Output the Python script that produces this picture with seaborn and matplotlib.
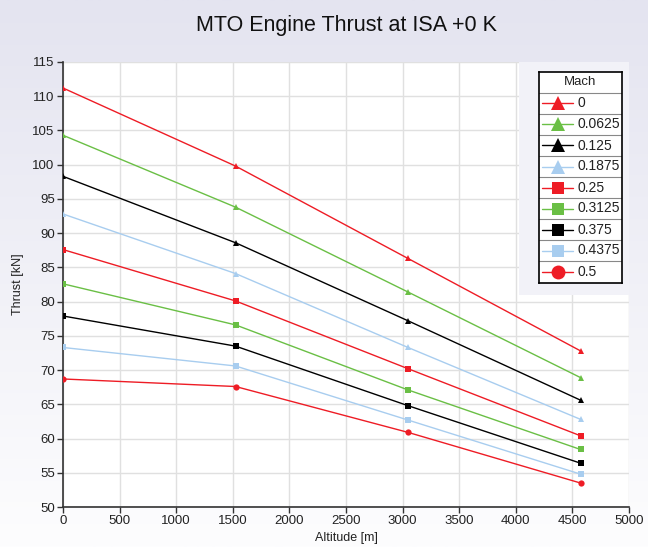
import numpy as np
import pandas as pd
import matplotlib
matplotlib.use('Agg')
import matplotlib.pyplot as plt
import seaborn as sns
from matplotlib.patches import Rectangle

# data
altitude = [0, 1524, 3048, 4572]
mach = ['0', '0.0625', '0.125', '0.1875', '0.25', '0.3125', '0.375', '0.4375', '0.5']
thrust = [
    [111.2, 99.8, 86.3, 72.8],
    [104.3, 93.8, 81.4, 68.9],
    [98.3, 88.6, 77.2, 65.6],
    [92.8, 84.1, 73.3, 62.8],
    [87.6, 80.1, 70.2, 60.4],
    [82.6, 76.6, 67.1, 58.4],
    [77.9, 73.5, 64.8, 56.4],
    [73.3, 70.6, 62.7, 54.8],
    [68.7, 67.6, 60.9, 53.5],
]
colors = ['#ee1c25', '#6abf45', '#000000', '#a8cdef'] * 2 + ['#ee1c25']
shapes = ['^'] * 4 + ['s'] * 4 + ['o']

rows = []
for m, vals in zip(mach, thrust):
    for a, t in zip(altitude, vals):
        rows.append({'Altitude': a, 'Thrust': t, 'Mach': m})
df = pd.DataFrame(rows)

sns.set_style('white')
plt.rcParams['font.family'] = ['Liberation Sans', 'DejaVu Sans']

fig = plt.figure(figsize=(6.48, 5.47), dpi=100)

# lavender gradient background
bg = fig.add_axes([0, 0, 1, 1], zorder=-10)
grad = np.linspace(0, 1, 256).reshape(-1, 1)
top = np.array([228, 228, 240]) / 255
bot = np.array([253, 253, 254]) / 255
img = top + (bot - top) * grad[:, :, None]
bg.imshow(img, aspect='auto', extent=[0, 1, 0, 1])
bg.axis('off')

ax = fig.add_axes([63 / 648, 40 / 547, 566 / 648, 445 / 547])
ax.set_facecolor('white')

sns.lineplot(data=df, x='Altitude', y='Thrust', hue='Mach', style='Mach',
             hue_order=mach, style_order=mach,
             palette=dict(zip(mach, colors)), markers=dict(zip(mach, shapes)),
             dashes=False, markersize=4.5, markeredgewidth=0, linewidth=1.0,
             legend=False, ax=ax, zorder=3)

ax.set_xlim(0, 5000)
ax.set_ylim(50, 115)
ax.set_xticks(np.arange(0, 5001, 500))
ax.set_yticks(np.arange(50, 116, 5))
ax.grid(True, color='#e0e0e0', linewidth=1.0)
ax.set_axisbelow(True)
for s in ['top', 'right']:
    ax.spines[s].set_visible(False)
for s in ['left', 'bottom']:
    ax.spines[s].set_color('#333333')
    ax.spines[s].set_linewidth(1.2)
ax.tick_params(axis='both', direction='out', length=4, width=1, color='#333333',
               labelsize=9.5, labelcolor='#222222', pad=2, left=True, bottom=True)
ax.set_xlabel('Altitude [m]', fontsize=9, color='#222222', labelpad=3)
ax.set_ylabel('Thrust [kN]', fontsize=9, color='#222222', labelpad=6)

fig.text(346 / 648, 1 - 25 / 547, 'MTO Engine Thrust at ISA +0 K', ha='center', va='center',
         fontsize=15.5, color='#111111')

# light panel behind the legend
ax.add_patch(Rectangle((456 / 566, (507 - 295) / 445), 110 / 566, 233 / 445,
                       transform=ax.transAxes, facecolor='#f2f2f8', edgecolor='none',
                       zorder=2.5))

# table-like legend
lg = fig.add_axes([539 / 648, (547 - 283) / 547, 83 / 648, 211 / 547], zorder=5)
lg.set_xlim(0, 83)
lg.set_ylim(211, 0)
lg.set_facecolor('white')
lg.set_xticks([])
lg.set_yticks([])
for s in lg.spines.values():
    s.set_color('#000000')
    s.set_linewidth(1.2)
lg.text(41.5, 10.5, 'Mach', ha='center', va='center', fontsize=9.5, color='#222222')
for i, (m, c, mk) in enumerate(zip(mach, colors, shapes)):
    yc = 21 + 21 * i + 10.5
    lg.axhline(21 + 21 * i, color='#888888', linewidth=0.8)
    lg.plot([3, 34], [yc, yc], color=c, linewidth=1.0)
    lg.plot([18.5], [yc], marker=mk, color=c, markersize=10 if mk != 's' else 9,
            markeredgewidth=0)
    lg.text(38, yc, m, ha='left', va='center', fontsize=10, color='#222222')

fig.savefig('out.png', dpi=100)
